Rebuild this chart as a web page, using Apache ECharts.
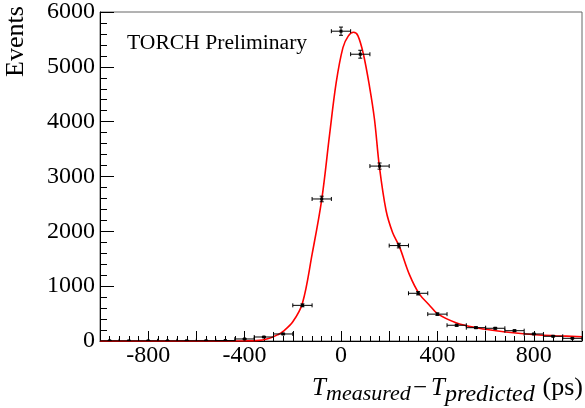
<!DOCTYPE html>
<html>
<head>
<meta charset="utf-8">
<script src="https://cdn.jsdelivr.net/npm/echarts@6/dist/echarts.min.js"></script>
<style>
html,body{margin:0;padding:0;background:#fff;}
#c{width:585px;height:408px;}
</style>
</head>
<body>
<div id="c"></div>
<script>
// ---- data ----
const binCenters = [-960,-880,-800,-720,-640,-560,-480,-400,-320,-240,-160,-80,0,80,160,240,320,400,480,560,640,720,800,880,960];
const counts     = [3,2,3,2,4,5,8,37,73,128,650,2590,5650,5230,3190,1740,870,490,287,243,232,188,128,86,49];
const countErrs  = [2,2,2,2,2,3,3,6,9,12,26,51,75,72,56,42,30,22,17,16,15,14,11,9,7];
const binWidth = 80;

const fitX = [-1000,-600,-450,-400,-350,-300,-260,-240,-200,-160,-120,-80,-48,-20,8,30,52,70,93,118,139,159,187,214,242,284,324,366,400,477,560,643,725,808,891,1000];
const fitY = [0,0,0,1,6,45,120,175,350,690,1580,2580,3740,4710,5350,5560,5630,5570,5230,4650,4040,3190,2380,1980,1725,1210,865,658,500,335,243,188,146,115,97,78];

const xTicks = [-800,-400,0,400,800];

const FONT = "'Liberation Serif','Times New Roman',serif";

const chart = echarts.init(document.getElementById('c'), null, {renderer:'canvas'});

const pts = binCenters.map((x,i)=>[x, counts[i], countErrs[i]]);
const fit = fitX.map((x,i)=>[x, fitY[i]]);

chart.setOption({
  animation:false,
  backgroundColor:'#fff',
  grid:{left:100, right:2, top:12, bottom:67, show:true, borderColor:'#666', borderWidth:1, backgroundColor:'transparent'},
  xAxis:{
    type:'value', min:-1000, max:1000, interval:200,
    axisLine:{show:true, onZero:false, lineStyle:{color:'#000', width:1}},
    axisTick:{show:true, inside:true, length:10, lineStyle:{color:'#000'}},
    minorTick:{show:true, splitNumber:5, length:5, lineStyle:{color:'#000'}},
    splitLine:{show:false},
    axisLabel:{
      color:'#000', fontFamily:FONT, fontSize:24, margin:3,
      formatter:(v)=> xTicks.indexOf(v) >= 0 ? String(v) : ''
    }
  },
  yAxis:{
    type:'value', min:0, max:6000, interval:1000,
    axisLine:{show:true, onZero:false, lineStyle:{color:'#000', width:1}},
    axisTick:{show:true, inside:true, length:14, lineStyle:{color:'#000'}},
    minorTick:{show:true, splitNumber:5, length:7, lineStyle:{color:'#000'}},
    splitLine:{show:false},
    axisLabel:{color:'#000', fontFamily:FONT, fontSize:24, margin:5, formatter:(v)=>String(v)}
  },
  series:[
    {
      type:'line', data:fit, smooth:0.35, showSymbol:false, symbol:'none',
      lineStyle:{color:'#ff0000', width:1.6}, z:2, clip:true
    },
    {
      type:'custom', data:pts, z:3, clip:true,
      renderItem:function(params, api){
        const x = api.value(0), y = api.value(1), e = api.value(2);
        const c = api.coord([x, y]);
        const l = api.coord([x - binWidth/2, y]);
        const r = api.coord([x + binWidth/2, y]);
        const t = api.coord([x, y + e]);
        const b = api.coord([x, y - e]);
        const st = {stroke:'#000', lineWidth:1};
        const ch = [
          {type:'line', shape:{x1:l[0], y1:c[1], x2:r[0], y2:c[1]}, style:st},
          {type:'line', shape:{x1:l[0], y1:c[1]-2, x2:l[0], y2:c[1]+2}, style:st},
          {type:'line', shape:{x1:r[0], y1:c[1]-2, x2:r[0], y2:c[1]+2}, style:st},
          {type:'line', shape:{x1:c[0], y1:t[1], x2:c[0], y2:b[1]}, style:st},
          {type:'line', shape:{x1:c[0]-2, y1:t[1], x2:c[0]+2, y2:t[1]}, style:st},
          {type:'line', shape:{x1:c[0]-2, y1:b[1], x2:c[0]+2, y2:b[1]}, style:st},
          {type:'rect', shape:{x:c[0]-1.5, y:c[1]-1.5, width:3, height:3}, style:{fill:'#000'}}
        ];
        return {type:'group', children:ch};
      }
    }
  ],
  graphic:[
    {type:'text', x:127, y:43.6, style:{text:'TORCH Preliminary', font:'21.6px '+FONT, fill:'#000', align:'left', verticalAlign:'middle'}},
    {type:'text', x:16, y:41.5, rotation:Math.PI/2, style:{text:'Events', font:'26px '+FONT, fill:'#000', align:'center', verticalAlign:'middle'}},
    {type:'text', x:312, y:388.3, style:{text:'T', font:'italic 25px '+FONT, fill:'#000', align:'left', verticalAlign:'middle'}},
    {type:'text', x:326, y:394.5, style:{text:'measured', font:'italic 22px '+FONT, fill:'#000', align:'left', verticalAlign:'middle'}},
    {type:'text', x:413, y:388.3, style:{text:'\u2212', font:'25px '+FONT, fill:'#000', align:'left', verticalAlign:'middle'}},
    {type:'text', x:431, y:388.3, style:{text:'T', font:'italic 25px '+FONT, fill:'#000', align:'left', verticalAlign:'middle'}},
    {type:'text', x:445, y:394.5, style:{text:'predicted', font:'italic 24px '+FONT, fill:'#000', align:'left', verticalAlign:'middle'}},
    {type:'text', x:583, y:388.2, style:{text:'(ps)', font:'26px '+FONT, fill:'#000', align:'right', verticalAlign:'middle'}}
  ]
});
</script>
</body>
</html>
